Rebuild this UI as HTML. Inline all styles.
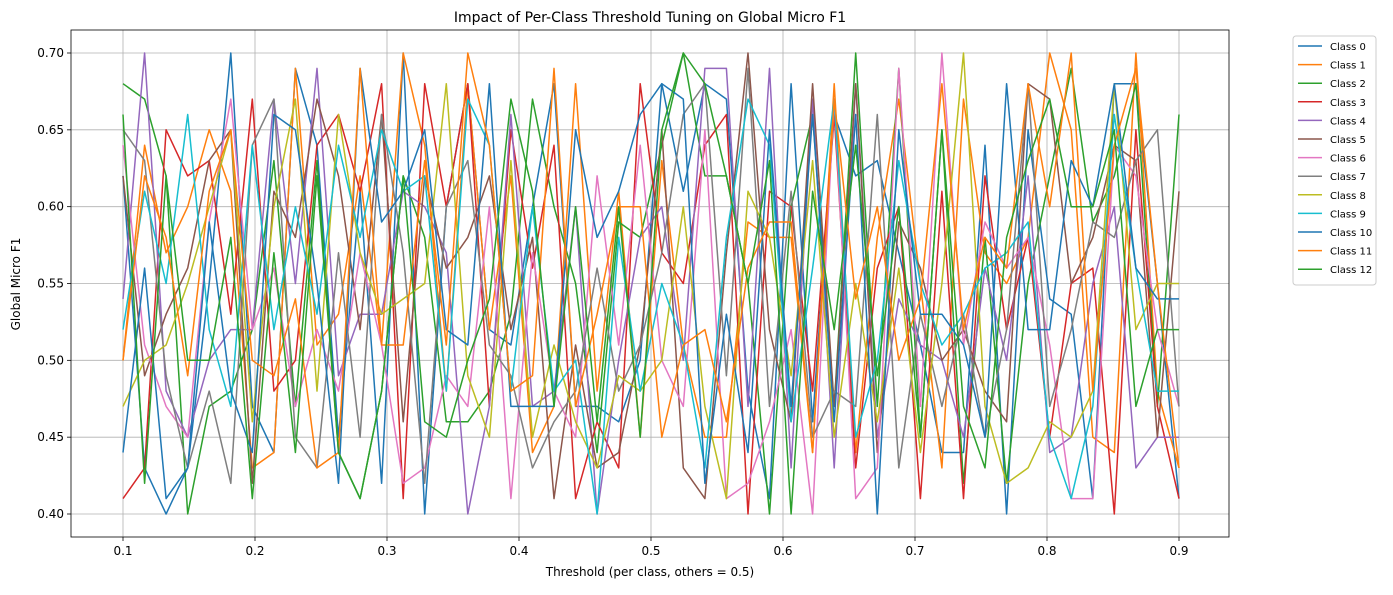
<!DOCTYPE html>
<html><head><meta charset="utf-8"><style>
body{margin:0;background:#fff;font-family:"Liberation Sans","DejaVu Sans",sans-serif}
svg text{font-family:"DejaVu Sans","Liberation Sans",sans-serif}
</style></head><body>
<svg id="chart" width="1393" height="590"></svg>
<script>
const xTicks=[0.1,0.2,0.3,0.4,0.5,0.6,0.7,0.8,0.9];
const yTicks=[0.40,0.45,0.50,0.55,0.60,0.65,0.70];
const seriesNames=["Class 0","Class 1","Class 2","Class 3","Class 4","Class 5","Class 6","Class 7","Class 8","Class 9","Class 10","Class 11","Class 12"];
const colors=["#1f77b4","#ff7f0e","#2ca02c","#d62728","#9467bd","#8c564b","#e377c2","#7f7f7f","#bcbd22","#17becf","#1f77b4","#ff7f0e","#2ca02c"];
const s0=[0.62,0.43,0.40,0.43,0.55,0.70,0.47,0.44,0.69,0.64,0.45,0.61,0.42,0.70,0.40,0.60,0.68,0.52,0.51,0.60,0.68,0.47,0.47,0.46,0.50,0.68,0.61,0.68,0.67,0.48,0.41,0.68,0.46,0.66,0.62,0.63,0.57,0.51,0.44,0.44,0.64,0.40,0.65,0.54,0.53,0.41,0.68,0.68,0.55,0.41];
const s1=[0.50,0.64,0.57,0.60,0.65,0.61,0.43,0.44,0.69,0.51,0.53,0.62,0.51,0.70,0.64,0.48,0.68,0.52,0.62,0.44,0.47,0.68,0.48,0.61,0.45,0.63,0.51,0.45,0.45,0.59,0.58,0.58,0.44,0.68,0.44,0.58,0.67,0.55,0.43,0.67,0.57,0.55,0.58,0.70,0.65,0.45,0.44,0.70,0.48,0.43];
const s2=[0.68,0.67,0.62,0.40,0.47,0.48,0.52,0.63,0.47,0.63,0.44,0.41,0.48,0.62,0.58,0.46,0.46,0.48,0.53,0.67,0.60,0.55,0.44,0.59,0.58,0.64,0.70,0.62,0.62,0.55,0.40,0.60,0.66,0.47,0.70,0.47,0.69,0.45,0.65,0.42,0.58,0.42,0.55,0.62,0.69,0.59,0.62,0.68,0.47,0.66];
const s3=[0.41,0.43,0.65,0.62,0.63,0.53,0.67,0.48,0.50,0.64,0.66,0.61,0.68,0.41,0.68,0.60,0.68,0.47,0.65,0.56,0.64,0.41,0.46,0.43,0.68,0.57,0.55,0.64,0.66,0.40,0.61,0.60,0.48,0.66,0.43,0.56,0.60,0.41,0.61,0.41,0.62,0.52,0.58,0.45,0.55,0.56,0.40,0.65,0.47,0.41];
const s4=[0.54,0.70,0.48,0.45,0.50,0.52,0.52,0.67,0.55,0.69,0.49,0.53,0.53,0.61,0.60,0.57,0.40,0.47,0.66,0.47,0.48,0.60,0.40,0.50,0.58,0.60,0.50,0.69,0.69,0.47,0.69,0.43,0.67,0.43,0.68,0.45,0.54,0.51,0.50,0.45,0.56,0.50,0.62,0.44,0.45,0.55,0.60,0.43,0.45,0.45];
const s5=[0.62,0.49,0.53,0.56,0.63,0.65,0.42,0.61,0.58,0.67,0.62,0.52,0.66,0.46,0.62,0.56,0.58,0.62,0.52,0.58,0.41,0.51,0.43,0.44,0.51,0.65,0.43,0.41,0.57,0.70,0.52,0.46,0.68,0.47,0.68,0.44,0.59,0.56,0.50,0.52,0.48,0.46,0.68,0.67,0.55,0.58,0.64,0.63,0.45,0.61];
const s6=[0.64,0.51,0.47,0.45,0.59,0.67,0.52,0.56,0.47,0.52,0.48,0.57,0.51,0.42,0.43,0.49,0.47,0.60,0.41,0.57,0.48,0.45,0.62,0.51,0.64,0.50,0.47,0.65,0.41,0.42,0.46,0.52,0.40,0.67,0.41,0.43,0.69,0.47,0.70,0.51,0.59,0.56,0.58,0.51,0.41,0.41,0.64,0.62,0.52,0.47];
const s7=[0.65,0.63,0.49,0.43,0.48,0.42,0.64,0.67,0.45,0.43,0.57,0.45,0.66,0.57,0.42,0.60,0.63,0.51,0.49,0.43,0.46,0.48,0.56,0.48,0.51,0.57,0.66,0.68,0.49,0.69,0.47,0.61,0.45,0.48,0.47,0.66,0.43,0.53,0.47,0.53,0.45,0.52,0.68,0.47,0.52,0.59,0.58,0.63,0.65,0.47];
const s8=[0.47,0.50,0.51,0.55,0.60,0.65,0.46,0.60,0.67,0.48,0.66,0.57,0.53,0.54,0.55,0.68,0.49,0.45,0.63,0.45,0.51,0.46,0.43,0.49,0.48,0.50,0.60,0.47,0.41,0.61,0.58,0.49,0.63,0.45,0.55,0.46,0.56,0.44,0.55,0.70,0.47,0.42,0.43,0.46,0.45,0.48,0.68,0.52,0.55,0.55];
const s9=[0.52,0.61,0.55,0.66,0.52,0.47,0.64,0.52,0.60,0.53,0.64,0.58,0.65,0.61,0.62,0.48,0.67,0.64,0.48,0.60,0.48,0.50,0.40,0.58,0.48,0.55,0.51,0.43,0.58,0.67,0.64,0.46,0.56,0.67,0.45,0.50,0.63,0.55,0.51,0.53,0.56,0.57,0.59,0.45,0.41,0.47,0.66,0.56,0.48,0.48];
const s10=[0.44,0.56,0.41,0.43,0.59,0.48,0.44,0.66,0.65,0.55,0.42,0.69,0.59,0.61,0.65,0.52,0.51,0.68,0.47,0.47,0.47,0.65,0.58,0.61,0.66,0.68,0.67,0.42,0.53,0.44,0.65,0.47,0.66,0.46,0.66,0.40,0.65,0.53,0.53,0.51,0.45,0.68,0.52,0.52,0.63,0.60,0.68,0.56,0.54,0.54];
const s11=[0.50,0.62,0.58,0.49,0.61,0.65,0.50,0.49,0.54,0.43,0.44,0.69,0.51,0.51,0.63,0.51,0.70,0.64,0.48,0.49,0.69,0.47,0.53,0.60,0.60,0.45,0.51,0.52,0.46,0.56,0.59,0.59,0.44,0.67,0.54,0.60,0.50,0.54,0.68,0.52,0.58,0.56,0.68,0.60,0.70,0.48,0.64,0.69,0.55,0.43];
const s12=[0.66,0.42,0.62,0.50,0.50,0.58,0.41,0.57,0.44,0.62,0.44,0.41,0.48,0.62,0.46,0.45,0.50,0.54,0.67,0.61,0.47,0.60,0.46,0.60,0.45,0.65,0.70,0.68,0.62,0.55,0.63,0.40,0.61,0.52,0.64,0.49,0.60,0.45,0.65,0.47,0.43,0.58,0.63,0.67,0.60,0.60,0.65,0.47,0.52,0.52];
const seriesValues=[s0,s1,s2,s3,s4,s5,s6,s7,s8,s9,s10,s11,s12];

const NS="http://www.w3.org/2000/svg";
const svg=document.getElementById('chart');
const L=71,R=1229,T=30,B=537;
const xS=v=>123+(v-0.1)*1320;
const yS=v=>53+(0.70-v)*(461/0.3);
function mk(tag,attrs,parent){const e=document.createElementNS(NS,tag);for(const k in attrs)e.setAttribute(k,attrs[k]);(parent||svg).appendChild(e);return e;}
// grid
xTicks.forEach(t=>{const g=mk('line',{x1:xS(t),x2:xS(t),y1:T,y2:B,stroke:'#b0b0b0','stroke-width':0.8});


mk('line',{x1:xS(t),x2:xS(t),y1:B,y2:B+4,stroke:'#000','stroke-width':0.8});
const tx=mk('text',{x:xS(t),y:B+18,'text-anchor':'middle','font-size':12,fill:'#000'});tx.textContent=t.toFixed(1);

});
yTicks.forEach(t=>{const g=mk('line',{x1:L,x2:R,y1:yS(t),y2:yS(t),stroke:'#b0b0b0','stroke-width':0.8});


mk('line',{x1:L-4,x2:L,y1:yS(t),y2:yS(t),stroke:'#000','stroke-width':0.8});
const tx=mk('text',{x:L-7,y:yS(t)+4,'text-anchor':'end','font-size':12,fill:'#000'});tx.textContent=t.toFixed(2);

});
// series
const n=s0.length;
seriesValues.forEach((vals,i)=>{const pts=vals.map((v,j)=>xS(0.1+0.8*j/(n-1)).toFixed(1)+','+yS(v).toFixed(1)).join(' ');
const p=mk('polyline',{points:pts,fill:'none',stroke:colors[i],'stroke-width':1.5,'stroke-linejoin':'round'});

});
// frame
const fr=mk('rect',{x:L,y:T,width:R-L,height:B-T,fill:'none',stroke:'#000','stroke-width':0.8});


const title=mk('text',{x:650,y:22,'text-anchor':'middle','font-size':14,fill:'#000'});title.textContent='Impact of Per-Class Threshold Tuning on Global Micro F1';


const xl=mk('text',{x:650,y:576,'text-anchor':'middle','font-size':12,fill:'#000'});xl.textContent='Threshold (per class, others = 0.5)';


const yl=mk('text',{x:20,y:284,'text-anchor':'middle','font-size':12,fill:'#000',transform:'rotate(-90 20 284)'});yl.textContent='Global Micro F1';


// legend
const lg=mk('rect',{x:1293,y:36,width:83,height:249,fill:'#fff',stroke:'#ccc','stroke-width':1,rx:3});


seriesNames.forEach((nm,i)=>{const y=46+i*18.6;
const ln=mk('line',{x1:1298,x2:1322,y1:y,y2:y,stroke:colors[i],'stroke-width':1.5});


const t=mk('text',{x:1330,y:y+4,'font-size':10,fill:'#000'});t.textContent=nm;

});
</script>
</body></html>
